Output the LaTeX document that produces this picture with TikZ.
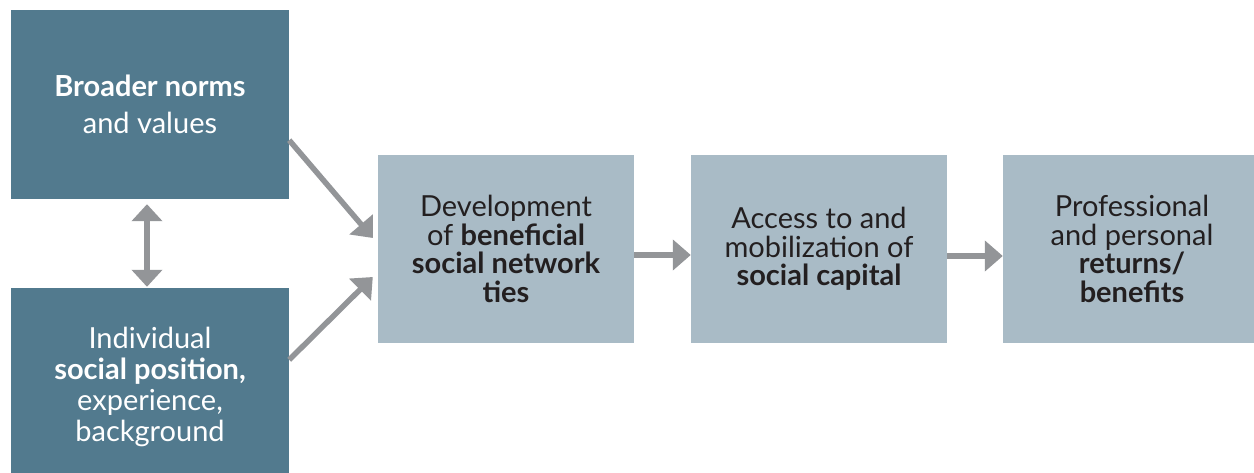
\documentclass[tikz,border=0pt]{standalone}
\usepackage{fontspec}
\setmainfont{Lato}
\usetikzlibrary{arrows.meta,calc}
\definecolor{darkbox}{HTML}{527A8E}
\definecolor{lightbox}{HTML}{A9BBC6}
\definecolor{arrowgray}{HTML}{939598}
\definecolor{inktext}{HTML}{231F20}
\begin{document}
\begin{tikzpicture}[x=1pt,y=-1pt,
  dbox/.style={fill=darkbox, text=white, inner sep=0pt, align=center,
    minimum width=278pt, font=\fontsize{29}{30.7}\selectfont},
  lbox/.style={fill=lightbox, text=inktext, inner sep=0pt, align=center,
    minimum height=188pt, font=\fontsize{29}{28.7}\selectfont},
  flow/.style={draw=arrowgray, line width=5.5pt,
    -{Triangle[width=30pt,length=18pt]}},
  twoway/.style={draw=arrowgray, line width=5.5pt,
    {Triangle[width=30pt,length=17pt]}-{Triangle[width=30pt,length=17pt]}}]
\useasboundingbox (0,0) rectangle (1254,473);

% left column: context boxes (the lower one runs off the page edge)
\node[dbox, minimum height=189pt] (norms) at (150,104.5)
  {\textbf{Broader norms}\\[6pt]and values};
\node[dbox, minimum height=198pt] (position) at (150,387)
  {Individual\\\textbf{social position,}\\experience,\\background};

% main chain (the last box runs off the right edge)
\node[lbox, minimum width=256pt] (ties) at (506,249)
  {Development\\of \textbf{beneficial}\\\textbf{social network}\\\textbf{ties}};
\node[lbox, minimum width=256pt] (access) at (819,249)
  {Access to and\\mobilization of\\\textbf{social capital}};
\node[lbox, minimum width=258pt] (returns) at (1132,249)
  {Professional\\and personal\\\textbf{returns/}\\\textbf{benefits}};

% connectors
\draw[twoway] ($(norms.south)+(-3,5)$) -- ($(position.north)+(-3,-1)$);
\draw[flow] ($(norms.south east)+(0,-59)$) -- ($(ties.west)+(-5,-11)$);
\draw[flow] ($(position.north east)+(0,72)$) -- ($(ties.west)+(-5,28)$);
\draw[flow] ($(ties.east)+(0,6)$) -- ($(access.west)+(0,6)$);
\draw[flow] ($(access.east)+(0,7)$) -- ($(returns.west)+(0,7)$);
\end{tikzpicture}
\end{document}
